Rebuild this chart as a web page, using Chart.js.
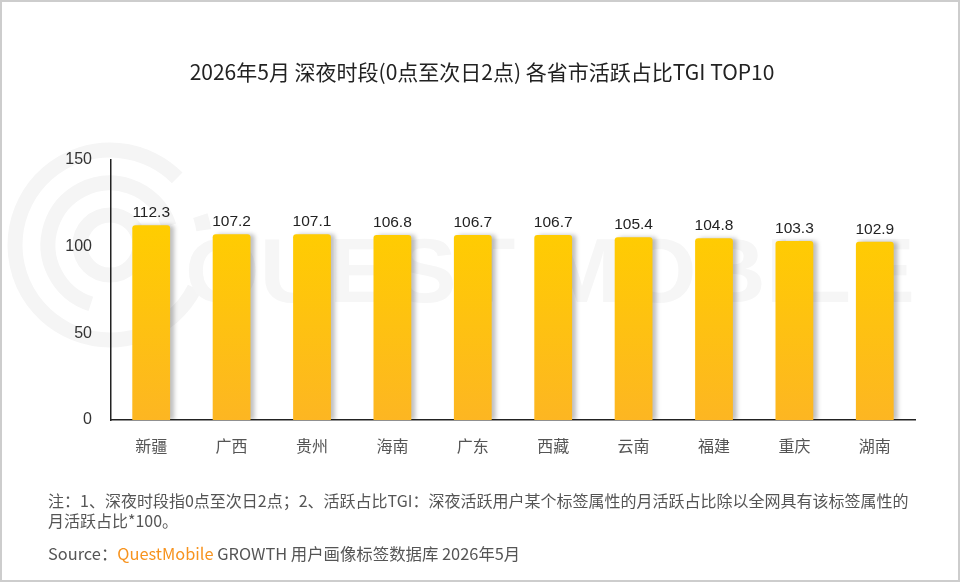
<!DOCTYPE html>
<html>
<head>
<meta charset="utf-8">
<script src="https://cdn.jsdelivr.net/npm/chart.js@4.4.0/dist/chart.umd.min.js"></script>
<style>
    body { margin: 0; background: #fff; }
    #box {
        position: relative; width: 960px; height: 582px;
        box-sizing: border-box; border: 2px solid #cdcdcd; overflow: hidden;
        font-family: "Noto Sans CJK SC", "Noto Sans", sans-serif;
    }
    #grafica { position: absolute; left: -2px; top: -2px; }
    #titulo {
        position: absolute; left: 0; width: 960px; top: 54px;
        text-align: center; font-size: 21px; color: #222; white-space: nowrap;
    }
    .nota {
        position: absolute; left: 46px; font-size: 16px; color: #555;
        line-height: 20px; white-space: nowrap;
    }
    .qm { color: #F7931E; }
</style>
</head>
<body>
<div id="box">
    <canvas id="grafica" width="960" height="582"></canvas>
    <div id="titulo">2026年5月 深夜时段(0点至次日2点) 各省市活跃占比TGI TOP10</div>
    <div class="nota" style="top:488px">注：1、深夜时段指0点至次日2点；2、活跃占比TGI：深夜活跃用户某个标签属性的月活跃占比除以全网具有该标签属性的<br>月活跃占比*100。</div>
    <div class="nota" style="top:541px; font-size:16.4px">Source：<span class="qm">QuestMobile</span> GROWTH 用户画像标签数据库 2026年5月</div>
</div>
<script>
const provincias = ['新疆', '广西', '贵州', '海南', '广东', '西藏', '云南', '福建', '重庆', '湖南'];
const tgi = [112.3, 107.2, 107.1, 106.8, 106.7, 106.7, 105.4, 104.8, 103.3, 102.9];
const ticksY = [0, 50, 100, 150];

// marca de agua QuestMobile (se dibuja antes que los ejes)
const marcaAgua = {
    id: 'marcaAgua',
    beforeDraw(chart) {
        const ctx = chart.ctx;
        ctx.save();
        ctx.strokeStyle = '#f5f5f5';
        ctx.lineWidth = 15;
        const cx = 110, cy = 245;
        [[95, 0.15, 1.75], [95, 1.9, 1.95], [62, 0.6, 1.9], [30, 0, 2]].forEach(([r, a0, a1]) => {
            ctx.beginPath();
            ctx.arc(cx, cy, r, a0 * Math.PI, a1 * Math.PI);
            ctx.stroke();
        });
        ctx.fillStyle = '#f6f6f6';
        ctx.font = 'bold 90px "Liberation Sans", Arial, sans-serif';
        ctx.textBaseline = 'alphabetic';
        const txt = 'QUEST MOBILE';
        const w = ctx.measureText(txt).width;
        ctx.translate(185, 302);
        ctx.scale(730 / w, 1);
        ctx.fillText(txt, 0, 0);
        ctx.restore();
    }
};

const sombra = {
    id: 'sombra',
    beforeDatasetDraw(chart) {
        const ctx = chart.ctx;
        ctx.save();
        ctx.shadowColor = 'rgba(0,0,0,0.25)';
        ctx.shadowBlur = 4;
        ctx.shadowOffsetX = 4;
        ctx.shadowOffsetY = 0;
    },
    afterDatasetDraw(chart) {
        chart.ctx.restore();
    }
};

const etiquetas = {
    id: 'etiquetas',
    afterDatasetsDraw(chart) {
        const ctx = chart.ctx;
        const meta = chart.getDatasetMeta(0);
        ctx.save();
        ctx.fillStyle = '#222';
        ctx.font = '15.5px "Liberation Sans", Arial, sans-serif';
        ctx.textAlign = 'center';
        ctx.textBaseline = 'alphabetic';
        meta.data.forEach((bar, i) => {
            ctx.fillText(tgi[i].toFixed(1), bar.x, bar.y - 8);
        });
        ctx.restore();
    }
};

const ctx = document.getElementById('grafica').getContext('2d');
const grafica = new Chart(ctx, {
    type: 'bar',
    data: {
        labels: provincias,
        datasets: [{
            label: 'TGI',
            data: tgi,
            backgroundColor: (c) => {
                const chart = c.chart;
                if (!chart.chartArea) return '#FFCC00';
                const y = chart.scales.y;
                const g = chart.ctx.createLinearGradient(0, y.getPixelForValue(112), 0, y.getPixelForValue(0));
                g.addColorStop(0, '#FFCD00');
                g.addColorStop(1, '#FDB622');
                return g;
            },
            borderRadius: 3,
            barPercentage: 0.47,
            categoryPercentage: 1
        }]
    },
    options: {
        responsive: false,
        animation: false,
        layout: { padding: { top: 160, right: 45, bottom: 112, left: 0 } },
        plugins: {
            legend: { display: false },
            tooltip: { enabled: false }
        },
        scales: {
            y: {
                min: 0,
                max: 150,
                afterBuildTicks: (s) => { s.ticks = ticksY.map(v => ({ value: v })); },
                afterFit: (s) => { s.width = 111; },
                grid: { display: false, drawTicks: false },
                border: { display: true, color: '#222', width: 1.5 },
                ticks: {
                    padding: 19,
                    color: '#333',
                    font: { size: 16, family: '"Liberation Sans", Arial, sans-serif' }
                }
            },
            x: {
                afterFit: (s) => { s.height = 50; },
                grid: { display: false, drawTicks: false },
                border: { display: true, color: '#222', width: 1.5 },
                ticks: {
                    padding: 16,
                    color: '#555',
                    font: { size: 16, family: '"Noto Sans CJK SC", sans-serif' }
                }
            }
        }
    },
    plugins: [marcaAgua, sombra, etiquetas]
});
</script>
</body>
</html>
